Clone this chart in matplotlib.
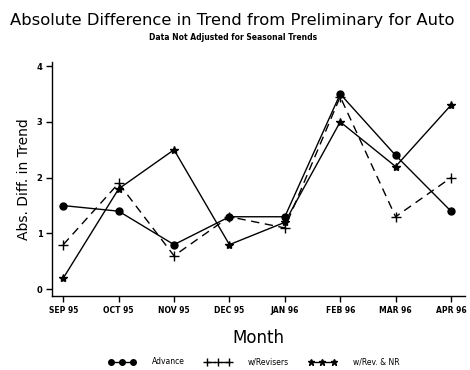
import matplotlib
matplotlib.use("Agg")
import matplotlib.pyplot as plt

months = ["SEP 95", "OCT 95", "NOV 95", "DEC 95", "JAN 96", "FEB 96", "MAR 96", "APR 96"]
advance = [1.5, 1.4, 0.8, 1.3, 1.3, 3.5, 2.4, 1.4]
revisers = [0.8, 1.9, 0.6, 1.3, 1.1, 3.45, 1.3, 2.0]
rev_nr = [0.2, 1.8, 2.5, 0.8, 1.2, 3.0, 2.2, 3.3]
yticks = [0, 1, 2, 3, 4]

fig = plt.figure(figsize=(4.7, 3.7), dpi=100)
ax = fig.add_axes([0.111, 0.2, 0.878, 0.632])
x = list(range(len(months)))
l1, = ax.plot(x, advance, '-', color='black', lw=1.0, marker='o', ms=5, label='Advance')
l2, = ax.plot(x, revisers, '--', color='black', lw=1.0, dashes=(6, 4), marker='+', ms=7, mew=1.0, label='w/Revisers')
l3, = ax.plot(x, rev_nr, '-', color='black', lw=1.0, marker='*', ms=6, label='w/Rev. & NR')

ax.set_xlim(-0.2, 7.25)
ax.set_ylim(-0.12, 4.07)
ax.set_xticks(x)
ax.set_xticklabels(months, fontsize=5.5, fontweight='bold')
ax.set_yticks(yticks)
ax.set_yticklabels([str(v) for v in yticks], fontsize=6, fontweight='bold')
for s in ['top', 'right']:
    ax.spines[s].set_visible(False)
ax.spines['left'].set_linewidth(1.0)
ax.spines['bottom'].set_linewidth(1.0)
ax.tick_params(direction='out', length=4, width=1.0, pad=3)
ax.set_ylabel("Abs. Diff. in Trend", fontsize=10, labelpad=4)
ax.set_xlabel("Month", fontsize=12, labelpad=10)

fig.text(0.022, 0.945, "Absolute Difference in Trend from Preliminary for Auto",
         fontsize=11.8, ha='left', va='center')
fig.text(0.495, 0.898, "Data Not Adjusted for Seasonal Trends", fontsize=5.5,
         fontweight='bold', ha='center', va='center')

fig.legend(handles=[l1, l2, l3], loc='center', bbox_to_anchor=(0.54, 0.022),
           ncol=3, frameon=False, fontsize=5.5, numpoints=3, handlelength=3.5,
           columnspacing=2.6, handletextpad=2.2, markerscale=0.8)

fig.savefig("out.png", dpi=100)
